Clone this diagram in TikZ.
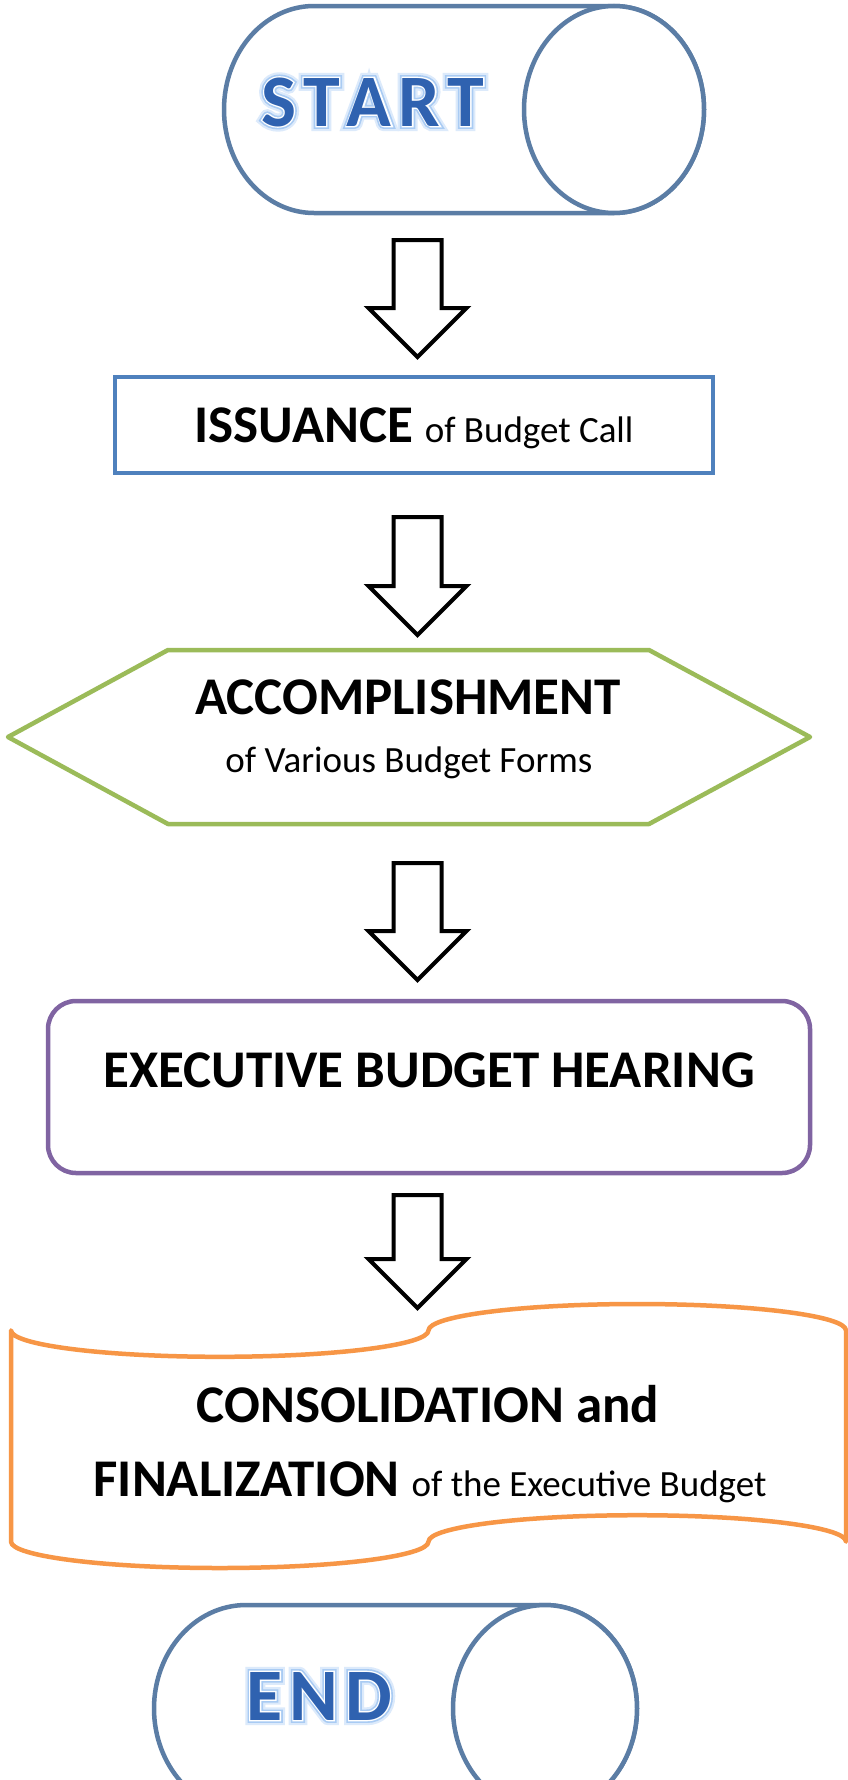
\documentclass[tikz,border=0pt]{standalone}
\usepackage{fontspec}
\setmainfont{Carlito}
\usetikzlibrary{calc}

\definecolor{termline}{HTML}{5B7DA5}
\definecolor{issueblue}{HTML}{4F81BD}
\definecolor{formgreen}{HTML}{9BBB59}
\definecolor{hearpurple}{HTML}{8064A2}
\definecolor{finalorange}{HTML}{F79646}
\definecolor{termblue}{HTML}{2F62B0}
\definecolor{glowouter}{HTML}{DCEAFB}
\definecolor{glowinner}{HTML}{A9CBF3}

\newcommand\bigbold{\fontsize{53}{60}\selectfont\bfseries}
\newcommand\smallreg{\fontsize{37}{44}\selectfont\mdseries}

% stroked copies of the bold face give the halo and rim of the terminal lettering
\newfontfamily\termhaloA[UprightFont={* Bold}, FakeBold=14]{Carlito}
\newfontfamily\termhaloB[UprightFont={* Bold}, FakeBold=8]{Carlito}
\newfontfamily\termrim[UprightFont={* Bold}, FakeBold=3.5]{Carlito}
\newfontfamily\termface[UprightFont={* Bold}]{Carlito}
\newcommand\termsize{\fontsize{74}{80}\selectfont}

% blue lettering with a white rim and a soft light-blue halo
\newcommand\glowtext[1]{%
  {\termhaloA\termsize\color{glowouter}\rlap{#1}}%
  {\termhaloB\termsize\color{glowinner}\rlap{#1}}%
  {\termrim\termsize\color{white}\rlap{#1}}%
  {\termface\termsize\color{termblue}#1}}

% hollow block arrow from a tail point down to a tip point
\newcommand\blockarrow[2]{%
  \draw[blockarrow] let \p1=(#1), \p2=(#2) in
    (\x1-24pt,\y1) -- (\x1+24pt,\y1) -- (\x1+24pt,\y2+49pt)
    -- (\x1+49pt,\y2+49pt) -- (\x1,\y2) -- (\x1-49pt,\y2+49pt)
    -- (\x1-24pt,\y2+49pt) -- cycle;}

\begin{document}
\begin{tikzpicture}[x=1pt,y=-1pt,
  frame/.style={inner sep=0pt, outer sep=0pt},
  termpath/.style={draw=termline, line width=4.5pt, fill=white},
  blockarrow/.style={draw=black, line width=4pt, fill=white, line join=miter},
  txt/.style={anchor=base, inner sep=0pt, text=black}]

\useasboundingbox (0,0) rectangle (848,1780);
\fill[white] (0,0) rectangle (848,1780);

% ---- start terminal (horizontal drum) ----
\node[frame, minimum width=480pt, minimum height=207pt] (termstart) at (464,109.5) {};
\begin{scope}[shift={(termstart.north west)}]
  \draw[termpath] (90,0) -- (390,0)
    arc[start angle=90, end angle=-90, x radius=90pt, y radius=103.5pt]
    -- (90,207)
    arc[start angle=270, end angle=90, x radius=90pt, y radius=103.5pt] -- cycle;
  \draw[termpath] (390,103.5) ellipse [x radius=90pt, y radius=103.5pt];
\end{scope}
\node[txt] (starttxt) at (372.5,126) {\glowtext{S\kern7pt T\kern7pt A\kern7pt R\kern7pt T}};

% ---- issuance ----
\node[frame, draw=issueblue, line width=4pt, minimum width=598pt, minimum height=96pt] (issue) at (414,425) {};
\node[txt] (issuetxt) at (414,442) {\bigbold ISSUANCE \smallreg of Budget Call};

% ---- accomplishment (hexagon) ----
\node[frame, minimum width=802pt, minimum height=174pt] (accomp) at (409,737) {};
\begin{scope}[shift={(accomp.north west)}]
  \draw[draw=formgreen, line width=4.5pt, line join=round]
    (0,87) -- (160,0) -- (641,0) -- (802,87) -- (641,174) -- (160,174) -- cycle;
\end{scope}
\node[txt] (accomptitle) at (408,714) {\bigbold ACCOMPLISHMENT};
\node[txt] (accompsub) at (409,772) {\smallreg of Various Budget Forms};

% ---- executive budget hearing ----
\node[frame, draw=hearpurple, line width=4.5pt, rounded corners=28pt, minimum width=762pt, minimum height=172pt] (hearing) at (429,1087) {};
\node[txt] (hearingtxt) at (429,1087) {\bigbold EXECUTIVE BUDGET HEARING};

% ---- consolidation (punched tape) ----
\node[frame, minimum width=835pt, minimum height=264pt] (consol) at (428.5,1436) {};
\begin{scope}[shift={(consol.north west)}]
  \draw[draw=finalorange, line width=4.5pt, line join=round]
    (0,26.4)
    arc[start angle=180, end angle=360, x radius=208.75pt, y radius=26.4pt]
    arc[start angle=180, end angle=0, x radius=208.75pt, y radius=26.4pt]
    -- (835,237.6)
    arc[start angle=0, end angle=180, x radius=208.75pt, y radius=26.4pt]
    arc[start angle=0, end angle=-180, x radius=208.75pt, y radius=26.4pt]
    -- cycle;
\end{scope}
\node[txt] (consoltxt1) at (428,1422) {\bigbold CONSOLIDATION and};
\node[txt] (consoltxt2) at (430,1496) {\bigbold FINALIZATION \smallreg of the Executive Budget};

% ---- end terminal ----
\node[frame, minimum width=483pt, minimum height=207pt] (termend) at (395.5,1708.5) {};
\begin{scope}[shift={(termend.north west)}]
  \draw[termpath] (92,0) -- (391,0)
    arc[start angle=90, end angle=-90, x radius=92pt, y radius=103.5pt]
    -- (92,207)
    arc[start angle=270, end angle=90, x radius=92pt, y radius=103.5pt] -- cycle;
  \draw[termpath] (391,103.5) ellipse [x radius=92pt, y radius=103.5pt];
\end{scope}
\node[txt] (endtxt) at (319,1720) {\glowtext{E\kern7pt N\kern7pt D}};

% ---- block arrows between the steps ----
\coordinate (axis) at (417.5,0);
\coordinate (a1top) at ($(axis |- termstart.south)+(0,27)$);
\coordinate (a1tip) at ($(axis |- issue.north)+(0,-20)$);
\coordinate (a2top) at ($(axis |- issue.south)+(0,44)$);
\coordinate (a2tip) at ($(axis |- accomp.north)+(0,-15)$);
\coordinate (a3top) at ($(axis |- accomp.south)+(0,39)$);
\coordinate (a3tip) at ($(axis |- hearing.north)+(0,-21)$);
\coordinate (a4top) at ($(axis |- hearing.south)+(0,22)$);
\coordinate (a4tip) at ($(axis |- consol.north)+(0,4)$);
\blockarrow{a1top}{a1tip}
\blockarrow{a2top}{a2tip}
\blockarrow{a3top}{a3tip}
\blockarrow{a4top}{a4tip}

\end{tikzpicture}
\end{document}
